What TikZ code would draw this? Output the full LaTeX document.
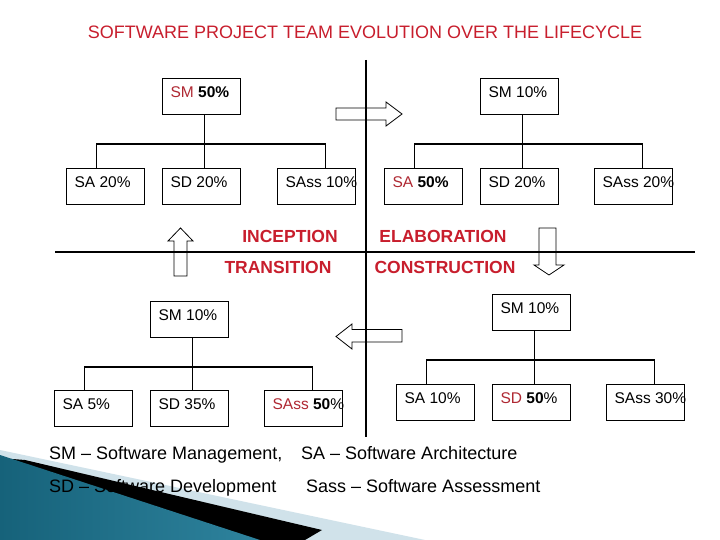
\documentclass[tikz,border=0pt]{standalone}
\usepackage{fontspec}
\setmainfont{Liberation Sans}
\definecolor{titlered}{RGB}{200,30,45}
\definecolor{smred}{RGB}{175,40,50}
\definecolor{lightstrip}{RGB}{208,226,234}
\definecolor{tealdark}{RGB}{22,98,122}
\definecolor{teallight}{RGB}{82,180,210}
\newcommand{\bx}[1]{\makebox[62pt][l]{#1}}
\begin{document}
\begin{tikzpicture}[x=1pt,y=-1pt,
  box/.style={draw, line width=1.2pt, inner xsep=8pt, inner ysep=0pt,
    text height=19pt, text depth=17pt, font=\fontsize{15.5}{18}\selectfont,
    anchor=north west},
  link/.style={line width=1.2pt},
  blockarrow/.style={draw, line width=0.8pt, fill=white, line join=miter},
  crossline/.style={line width=1.2pt},
  phase/.style={font=\fontsize{17.5}{20}\selectfont\bfseries, text=titlered,
    anchor=base, inner sep=0pt},
  legend/.style={font=\fontsize{18}{21}\selectfont, anchor=base west, inner sep=0pt}]
\useasboundingbox (0,0) rectangle (720,540);
\fill[white] (0,0) rectangle (720,540);

% decoration bottom left
\fill[lightstrip] (0,450) -- (425,540) -- (0,540) -- cycle;
\fill[black] (0,458) -- (25,460) -- (322,530) -- (305,540) -- (0,540) -- cycle;
\shade[left color=tealdark, middle color=teallight, right color=tealdark!60!teallight]
  (0,455) -- (260,540) -- (0,540) -- cycle;

% title
\node[font=\fontsize{18}{21}\selectfont, text=titlered, anchor=base, inner sep=0pt]
  (title) at (365,39) {SOFTWARE PROJECT TEAM EVOLUTION OVER THE LIFECYCLE};

% block arrows
\draw[blockarrow] (336,108) -- (386,108) -- (386,102) -- (402,114) -- (386,126)
  -- (386,120) -- (336,120) -- cycle;
\draw[blockarrow] (402,329.5) -- (352,329.5) -- (352,324) -- (336,336.5) -- (352,349)
  -- (352,342) -- (402,342) -- cycle;
\draw[blockarrow] (174,276) -- (174,241) -- (168,241) -- (180.5,228) -- (193,241)
  -- (187,241) -- (187,276) -- cycle;
\draw[blockarrow] (539,228) -- (539,265) -- (534,265) -- (549,275) -- (564,265)
  -- (556,265) -- (556,228) -- cycle;

% cross lines
\draw[crossline] (366,60) -- (366,437);
\draw[crossline] (55,252) -- (695,252);

% phase labels
\node[phase] (inception) at (290,242) {INCEPTION};
\node[phase] (elaboration) at (443,242) {ELABORATION};
\node[phase] (transition) at (278,273) {TRANSITION};
\node[phase] (construction) at (445,273) {CONSTRUCTION};

% tree A (inception)
\node[box] (smA) at (162,78) {\bx{\textcolor{smred}{SM} \textbf{50\%}}};
\node[box] (saA) at (66,168) {\bx{SA 20\%}};
\node[box] (sdA) at (162,168) {\bx{SD 20\%}};
\node[box] (sassA) at (277,168) {\bx{SAss 10\%}};
\draw[link] ([xshift=3pt]smA.south) -- ([xshift=3pt]sdA.north);
\draw[link] ([xshift=-9pt]saA.north) -- ++(0,-24) -| ([xshift=9pt]sassA.north);

% tree B (elaboration)
\node[box] (smB) at (480,78) {\bx{SM 10\%}};
\node[box] (saB) at (384,168) {\bx{\textcolor{smred}{SA} \textbf{50\%}}};
\node[box] (sdB) at (480,168) {\bx{SD 20\%}};
\node[box] (sassB) at (594,168) {\bx{SAss 20\%}};
\draw[link] ([xshift=3pt]smB.south) -- ([xshift=3pt]sdB.north);
\draw[link] ([xshift=-9pt]saB.north) -- ++(0,-24) -| ([xshift=9pt]sassB.north);

% tree C (transition)
\node[box] (smC) at (150,301) {\bx{SM 10\%}};
\node[box] (saC) at (54,390) {\bx{SA 5\%}};
\node[box] (sdC) at (150,390) {\bx{SD 35\%}};
\node[box] (sassC) at (264,390) {\bx{\textcolor{smred}{SAss} \textbf{50}\%}};
\draw[link] ([xshift=3pt]smC.south) -- ([xshift=3pt]sdC.north);
\draw[link] ([xshift=-9pt]saC.north) -- ++(0,-23) -| ([xshift=9pt]sassC.north);

% tree D (construction)
\node[box] (smD) at (492,294) {\bx{SM 10\%}};
\node[box] (saD) at (396,384) {\bx{SA 10\%}};
\node[box] (sdD) at (492,384) {\bx{\textcolor{smred}{SD} \textbf{50}\%}};
\node[box] (sassD) at (606,384) {\bx{SAss 30\%}};
\draw[link] ([xshift=3pt]smD.south) -- ([xshift=3pt]sdD.north);
\draw[link] ([xshift=-9pt]saD.north) -- ++(0,-24) -| ([xshift=9pt]sassD.north);

% legend
\node[legend] (legSM) at (49,459) {SM – Software Management,};
\node[legend] (legSA) at (301,459) {SA – Software Architecture};
\node[legend] (legSD) at (49,492) {SD – Software Development};
\node[legend] (legSass) at (306,492) {Sass – Software Assessment};
\end{tikzpicture}
\end{document}
